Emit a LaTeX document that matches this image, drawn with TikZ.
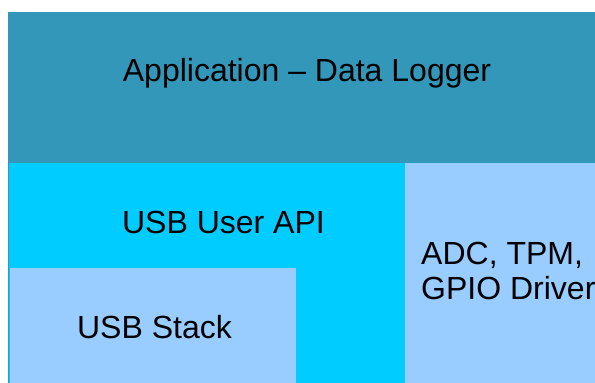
\documentclass[tikz,border=0pt]{standalone}
\usepackage{fontspec}
\setmainfont{Liberation Sans}
\definecolor{appteal}{HTML}{3397B9}
\definecolor{apicyan}{HTML}{00CCFF}
\definecolor{stackblue}{HTML}{99CCFF}
\tikzset{
  block/.style={anchor=north west, inner sep=0pt, outer sep=0pt, draw=none},
  lbl/.style={inner sep=0pt, text=black, font=\fontsize{32}{35}\selectfont}
}
\begin{document}
\begin{tikzpicture}[x=1pt,y=-1pt]
\useasboundingbox[fill=white] (0,0) rectangle (595,383);
\node[block, fill=appteal, minimum width=587pt, minimum height=151pt] (app) at (8,12) {};
\node[block, fill=apicyan, minimum width=397pt, minimum height=220pt] (api) at (8,163) {};
\node[block, fill=stackblue, minimum width=190pt, minimum height=220pt] (drv) at (405,163) {};
\node[block, fill=stackblue, minimum width=286pt, minimum height=115pt] (stack) at (10,268) {};
\draw[appteal, line width=1pt] (api.north west) ++(0.5,0) coordinate (edgetop) -- (edgetop |- api.south west);
\node[lbl, anchor=base] (apptext) at (307,81) {Application – Data Logger};
\node[lbl, anchor=base] (apitext) at (223.5,233) {USB User API};
\node[lbl, anchor=base] (stacktext) at (154.5,338) {USB Stack};
\node[lbl, anchor=base west] (drvtexta) at (421,264) {ADC, TPM,};
\node[lbl, anchor=base west] (drvtextb) at (421,299) {GPIO Driver};
\end{tikzpicture}
\end{document}
